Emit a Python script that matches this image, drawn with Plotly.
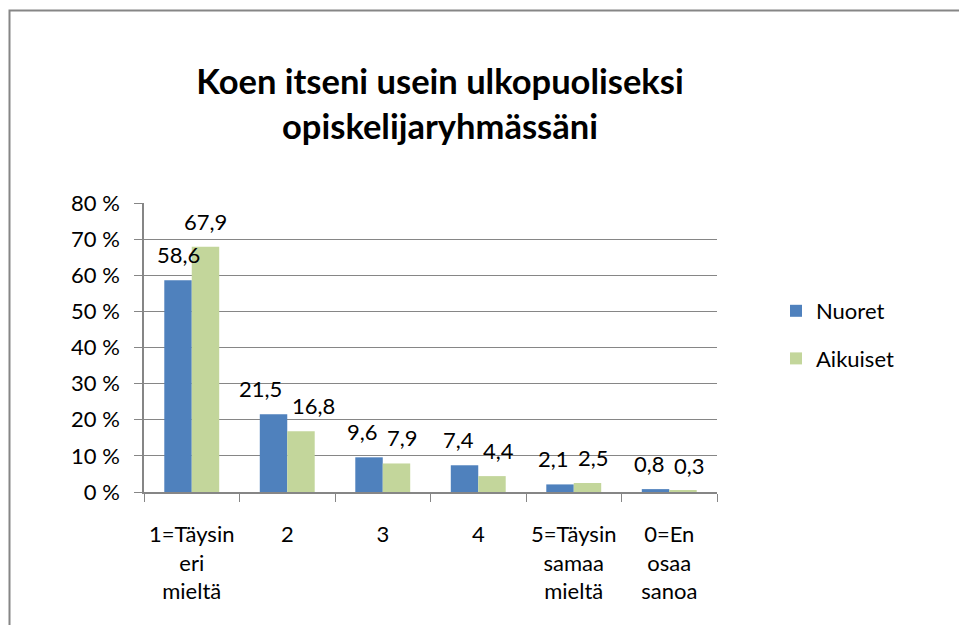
import plotly.graph_objects as go

categories = ["1=Täysin<br>eri<br>mieltä", "2", "3", "4", "5=Täysin<br>samaa<br>mieltä", "0=En<br>osaa<br>sanoa"]
nuoret = [58.6, 21.5, 9.6, 7.4, 2.1, 0.8]
aikuiset = [67.9, 16.8, 7.9, 4.4, 2.5, 0.3]
y_ticks = [0, 10, 20, 30, 40, 50, 60, 70, 80]

def fi(v):
    return f"{v:.1f}".replace(".", ",")

FONT = "Lato"
OFF = 8  # page body margin
W, H = 967 - OFF, 625 - OFF
L, R, T, B = 144 - OFF, 717 - OFF, 203 - OFF, 492 - OFF
BARGAP = 0.425
BLUE, GREEN = "#4F81BD", "#C3D69B"
GRAY = "#868686"
LBL = 22

fig = go.Figure()
fig.add_trace(go.Bar(x=categories, y=nuoret, name="Nuoret", legendgroup="a",
                     marker=dict(color=BLUE, line=dict(width=0))))
fig.add_trace(go.Bar(x=categories, y=aikuiset, name="Aikuiset", legendgroup="b",
                     marker=dict(color=GREEN, line=dict(width=0))))

pw = R - L
ph = B - T
def px(x):
    return (x - L) / pw
def py(y):
    return (B - y) / ph

# data labels (outside end), pushed apart horizontally when they collide
bar_w = pw / len(categories) * (1 - BARGAP) / 2
unit = ph / 80.0
def tw(s):
    return sum((0.25 if c == "," else 0.58) for c in s) * LBL

for i, cat in enumerate(categories):
    tb, tg = fi(nuoret[i]), fi(aikuiset[i])
    dy = abs(nuoret[i] - aikuiset[i]) * unit
    push = 0.0
    if dy < LBL:
        need = (tw(tb) + tw(tg)) / 2 + 9
        push = max(0.0, (need - bar_w) / 2)
    for val, txt, sh in ((nuoret[i], tb, -bar_w / 2 - push), (aikuiset[i], tg, bar_w / 2 + push)):
        fig.add_annotation(x=i, y=val, xref="x", yref="y", text=txt, showarrow=False,
                           xshift=sh, yshift=10, yanchor="bottom", xanchor="center",
                           font=dict(size=LBL, family=FONT, color="#000000"))

fig.add_shape(type="rect", xref="paper", yref="paper",
              x0=px(1.5), x1=px(W + 20), y0=py(H + 20), y1=py(2.5),
              line=dict(color=GRAY, width=2), fillcolor="rgba(0,0,0,0)", layer="below")

fig.update_layout(
    width=W, height=H,
    margin=dict(l=L, r=W - R, t=T, b=H - B, autoexpand=False),
    paper_bgcolor="white", plot_bgcolor="white",
    font=dict(family=FONT, size=22, color="#000000"),
    title=dict(text="<b>Koen itseni usein ulkopuoliseksi<br>opiskelijaryhmässäni</b>",
               x=(440 - OFF) / W, xanchor="center", y=1 - 86 / H, yanchor="top", yref="container",
               font=dict(size=34.5, family=FONT, color="#000000")),
    barmode="group", bargap=BARGAP, bargroupgap=0,
    showlegend=True,
    legend=dict(x=px(768), y=py(327), xanchor="left", yanchor="middle",
                font=dict(size=LBL, family=FONT), tracegroupgap=16, traceorder="grouped",
                bgcolor="rgba(0,0,0,0)"),
    xaxis=dict(type="category", showline=True, linecolor=GRAY, linewidth=1.5,
               ticks="outside", tickson="boundaries", ticklen=8, tickcolor=GRAY,
               ticklabelstandoff=22, automargin=False,
               tickfont=dict(size=LBL, family=FONT), showgrid=False, fixedrange=True),
    yaxis=dict(range=[0, 80], tickvals=y_ticks, ticktext=[f"{v} %" for v in y_ticks],
               showline=True, linecolor=GRAY, linewidth=1.5,
               ticks="outside", ticklen=8, tickcolor=GRAY, ticklabelstandoff=10, automargin=False,
               showgrid=True, gridcolor=GRAY, gridwidth=1.2,
               tickfont=dict(size=LBL, family=FONT), zeroline=False, fixedrange=True),
)

fig.write_html("out.html")
